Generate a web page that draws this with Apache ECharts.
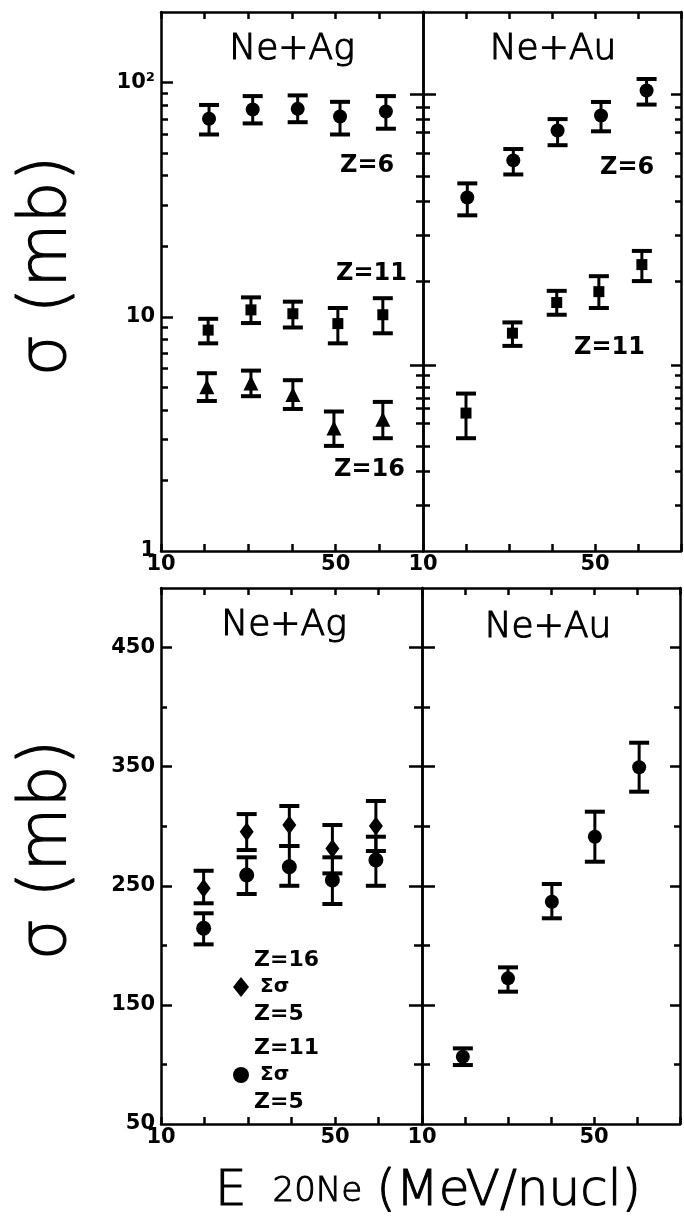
<!DOCTYPE html>
<html><head><meta charset="utf-8">
<script src="https://cdn.jsdelivr.net/npm/echarts@6/dist/echarts.min.js"></script>
<style>html,body{margin:0;padding:0;background:#fff}#c{width:684px;height:1218px}</style>
</head><body><div id="c"></div>
<script>
// ---------- x axis (beam energy, MeV/nucl) ----------
const xLabelVals = [10, 50];

// ---------- top panels: log scale (mb) ----------
const logLabelVals = [1, 10, 100];
const agMajorTicks = [10, 100];
const agMinorTicks = [2, 3, 4, 5, 6, 7, 8, 9, 20, 30, 40, 50, 60, 70, 80, 90];
const auLongTicks = [6.21, 88.9];
const auShortTicks = [1.57, 2.19, 2.80, 3.51, 4.07, 4.49, 5.0, 5.63, 14.2, 22.3, 31.1, 39.7, 49.8, 61.2, 69.5, 78.2];

// Ne+Ag, Z=6
const agZ6E  = [21, 31, 41.3, 51, 61.5];
const agZ6   = [70, 76.7, 77.2, 71.6, 75.2];
const agZ6Lo = [60, 66.9, 67.7, 60, 63.5];
const agZ6Hi = [80.2, 87.5, 88.1, 82.7, 87.5];
// Ne+Ag, Z=11
const agZ11E  = [20.8, 30.6, 40.2, 50.5, 60.8];
const agZ11   = [8.77, 10.7, 10.3, 9.35, 10.2];
const agZ11Lo = [7.7, 9.4, 9.0, 7.7, 8.5];
const agZ11Hi = [9.8, 12.1, 11.6, 10.9, 12.0];
// Ne+Ag, Z=16
const agZ16E  = [20.5, 30.6, 40.2, 49.6, 60.8];
const agZ16   = [5.03, 5.22, 4.66, 3.35, 3.65];
const agZ16Lo = [4.37, 4.58, 4.04, 2.81, 3.03];
const agZ16Hi = [5.74, 5.89, 5.36, 3.94, 4.33];
// Ne+Au, Z=6
const auZ6E  = [20.3, 31, 41.3, 51.4, 62];
const auZ6   = [32.3, 46.5, 62.4, 72.3, 92.4];
const auZ6Lo = [27.1, 40.5, 54.0, 61.9, 80.5];
const auZ6Hi = [37.1, 52.0, 69.8, 82.6, 103.5];
// Ne+Au, Z=11
const auZ11E  = [20.0, 30.8, 41.1, 50.9, 60.9];
const auZ11   = [3.88, 8.51, 11.5, 12.8, 16.7];
const auZ11Lo = [3.03, 7.51, 10.2, 10.9, 14.2];
const auZ11Hi = [4.70, 9.46, 12.9, 14.9, 19.1];

// ---------- bottom panels: linear scale (mb) ----------
const linLabelVals = [50, 150, 250, 350, 450];
const linMajorTicks = [150, 250, 350, 450];
const linMinorTicks = [100, 200, 300, 400];
// Ne+Ag, sum Z=5..16 (diamonds) and sum Z=5..11 (circles)
const agSumE    = [19.8, 29.7, 39.5, 49.4, 59.4];
const agSum16   = [247.9, 295.4, 301.0, 281.4, 300.2];
const agSum16Lo = [235.3, 280.0, 283.4, 260.4, 279.2];
const agSum16Hi = [262.6, 310.2, 317.0, 301.0, 321.2];
const agSum11   = [214.3, 259.0, 266.0, 254.8, 271.6];
const agSum11Lo = [200.8, 243.1, 250.0, 234.7, 250.0];
const agSum11Hi = [226.9, 273.9, 283.4, 273.9, 291.2];
// Ne+Au, sum
const auSumE  = [19.5, 30, 40.2, 50.2, 60.5];
const auSum   = [106.5, 172.3, 236.6, 291.2, 349.5];
const auSumLo = [99.5, 161.1, 222.7, 270.2, 329.0];
const auSumHi = [113.5, 181.5, 251.5, 312.2, 370.1];

// ---------- helpers ----------
const BLACK = '#000';
const tickFont = {color: BLACK, fontFamily: 'DejaVu Sans', fontWeight: 'bold', fontSize: 21};
const pts = (E, v) => E.map((e, i) => [e, v[i]]);
const bars = (E, v, lo, hi) => E.map((e, i) => [e, v[i], lo[i], hi[i]]);

function errRender(params, api) {
  const x = api.value(0), lo = api.value(2), hi = api.value(3);
  const a = api.coord([x, hi]), b = api.coord([x, lo]);
  const hw = 10;
  return {type: 'group', children: [
    {type: 'line', shape: {x1: a[0], y1: a[1], x2: b[0], y2: b[1]}, style: {stroke: BLACK, lineWidth: 3}},
    {type: 'line', shape: {x1: a[0] - hw, y1: a[1], x2: a[0] + hw, y2: a[1]}, style: {stroke: BLACK, lineWidth: 4}},
    {type: 'line', shape: {x1: b[0] - hw, y1: b[1], x2: b[0] + hw, y2: b[1]}, style: {stroke: BLACK, lineWidth: 4}}
  ]};
}
function errSeries(data, xi, yi) {
  return {type: 'custom', xAxisIndex: xi, yAxisIndex: yi, renderItem: errRender, data: data,
    encode: {x: 0, y: 1}, clip: false, silent: true, z: 3};
}
function ptSeries(name, data, xi, yi, symbol, size) {
  return {type: 'scatter', name: name, xAxisIndex: xi, yAxisIndex: yi, data: data, symbol: symbol,
    symbolSize: size, itemStyle: {color: BLACK, opacity: 1}, silent: true, z: 4};
}

const LW = 2.5;
function xAx(gi, pos, labels) {
  return {type: 'value', gridIndex: gi, position: pos, min: 10, max: 70, interval: 10,
    axisLine: {show: true, onZero: false, lineStyle: {color: BLACK, width: LW}},
    axisTick: {show: true, inside: true, length: 7, lineStyle: {color: BLACK, width: LW}},
    axisLabel: Object.assign({show: labels, margin: 3, showMinLabel: true, showMaxLabel: true,
      formatter: v => xLabelVals.indexOf(Math.round(v)) >= 0 ? String(Math.round(v)) : ''}, tickFont),
    splitLine: {show: false}};
}
function yAx(gi, type, range, pos, line, ticks, tlen, inside, labels) {
  const ax = {type: type, gridIndex: gi, position: pos, min: range[0], max: range[1],
    axisLine: {show: line, onZero: false, lineStyle: {color: BLACK, width: LW}},
    axisTick: ticks ? {show: true, inside: inside, length: tlen, customValues: ticks,
      lineStyle: {color: BLACK, width: LW}} : {show: false},
    axisLabel: {show: false},
    splitLine: {show: false}};
  if (labels) {
    ax.axisLabel = Object.assign({show: true, margin: 6, customValues: labels.vals,
      formatter: labels.fmt}, tickFont);
  }
  return ax;
}
const logR = [1, 200], linR = [50, 500];
const logFmt = v => { const r = Math.round(v); return r === 100 ? '10²' : String(r); };
const linFmt = v => String(Math.round(v));

const grids = [
  {left: 161, top: 12, width: 262, height: 539},
  {left: 423, top: 12, width: 258, height: 539},
  {left: 161, top: 588, width: 261, height: 536},
  {left: 422, top: 588, width: 258, height: 536}
].map(g => Object.assign({outerBoundsMode: 'none', containLabel: false}, g));

const xAxis = [
  xAx(0, 'bottom', true), xAx(0, 'top', false),
  xAx(1, 'bottom', true), xAx(1, 'top', false),
  xAx(2, 'bottom', true), xAx(2, 'top', false),
  xAx(3, 'bottom', true), xAx(3, 'top', false)
];
const yAxis = [
  // grid 0 (Ne+Ag, log)
  yAx(0, 'log', logR, 'left', true, agMajorTicks, 12, true, {vals: logLabelVals, fmt: logFmt}), // 0
  yAx(0, 'log', logR, 'left', false, agMinorTicks, 7, true),   // 1
  yAx(0, 'log', logR, 'right', true, null),                     // 2
  // grid 1 (Ne+Au, log)
  yAx(1, 'log', logR, 'left', true, auLongTicks, 13, true),     // 3
  yAx(1, 'log', logR, 'left', false, auLongTicks, 13, false),   // 4
  yAx(1, 'log', logR, 'left', false, auShortTicks, 7, true),    // 5
  yAx(1, 'log', logR, 'left', false, auShortTicks, 7, false),   // 6
  yAx(1, 'log', logR, 'right', true, auLongTicks, 10, true),    // 7
  yAx(1, 'log', logR, 'right', false, auShortTicks, 6, true),   // 8
  // grid 2 (Ne+Ag, linear)
  yAx(2, 'value', linR, 'left', true, linMajorTicks, 11, true, {vals: linLabelVals, fmt: linFmt}), // 9
  yAx(2, 'value', linR, 'left', false, linMinorTicks, 6, true), // 10
  yAx(2, 'value', linR, 'right', true, null),                   // 11
  // grid 3 (Ne+Au, linear)
  yAx(3, 'value', linR, 'left', true, linMajorTicks, 13, true),   // 12
  yAx(3, 'value', linR, 'left', false, linMajorTicks, 13, false), // 13
  yAx(3, 'value', linR, 'left', false, linMinorTicks, 8, true),   // 14
  yAx(3, 'value', linR, 'left', false, linMinorTicks, 8, false),  // 15
  yAx(3, 'value', linR, 'right', true, linMajorTicks, 10, true),  // 16
  yAx(3, 'value', linR, 'right', false, linMinorTicks, 6, true)   // 17
];

const series = [
  errSeries(bars(agZ6E, agZ6, agZ6Lo, agZ6Hi), 0, 0),
  errSeries(bars(agZ11E, agZ11, agZ11Lo, agZ11Hi), 0, 0),
  errSeries(bars(agZ16E, agZ16, agZ16Lo, agZ16Hi), 0, 0),
  ptSeries('agZ6', pts(agZ6E, agZ6), 0, 0, 'circle', 14),
  ptSeries('agZ11', pts(agZ11E, agZ11), 0, 0, 'rect', 11),
  ptSeries('agZ16', pts(agZ16E, agZ16), 0, 0, 'triangle', 15),
  errSeries(bars(auZ6E, auZ6, auZ6Lo, auZ6Hi), 2, 3),
  errSeries(bars(auZ11E, auZ11, auZ11Lo, auZ11Hi), 2, 3),
  ptSeries('auZ6', pts(auZ6E, auZ6), 2, 3, 'circle', 14),
  ptSeries('auZ11', pts(auZ11E, auZ11), 2, 3, 'rect', 11),
  errSeries(bars(agSumE, agSum16, agSum16Lo, agSum16Hi), 4, 9),
  errSeries(bars(agSumE, agSum11, agSum11Lo, agSum11Hi), 4, 9),
  ptSeries('sum16', pts(agSumE, agSum16), 4, 9, 'diamond', [14, 19]),
  ptSeries('sum11', pts(agSumE, agSum11), 4, 9, 'circle', 15),
  errSeries(bars(auSumE, auSum, auSumLo, auSumHi), 6, 12),
  ptSeries('auSum', pts(auSumE, auSum), 6, 12, 'circle', 14)
];

// light sans text, thickened slightly with a thin outline to match the plotter strokes
const thin = '"DejaVu Sans"';
function txt(text, x, y, font, align, extra, sw) {
  return Object.assign({type: 'text', x: x, y: y, silent: true, z: 10,
    style: {text: text, font: font, fill: BLACK, stroke: sw ? BLACK : null, lineWidth: sw || 0,
      align: align || 'left', verticalAlign: 'middle'}}, extra || {});
}
const zFont = 'bold 24px "DejaVu Sans"';
const panelFont = '200 36px ' + thin;
const graphic = [
  txt('Ne+Ag', 292, 50, panelFont, 'center', null, 1.2),
  txt('Ne+Au', 553, 50, panelFont, 'center', null, 1.2),
  txt('Ne+Ag', 284, 626, panelFont, 'center', null, 1.2),
  txt('Ne+Au', 548, 628, panelFont, 'center', null, 1.2),
  txt('Z=6', 340, 166, zFont),
  txt('Z=11', 336, 274, zFont),
  txt('Z=16', 334, 470, zFont),
  txt('Z=6', 600, 168, zFont),
  txt('Z=11', 574, 348, zFont),
  txt('σ (mb)', 48, 266, '200 66px ' + thin, 'center', {rotation: Math.PI / 2}, 1.1),
  txt('σ (mb)', 48, 850, '200 66px ' + thin, 'center', {rotation: Math.PI / 2}, 1.1),
  {type: 'text', x: 428, y: 1192, silent: true, z: 10,
    style: {text: '{b|E}{g|\u00a0}{s|20Ne}{h|\u00a0}{b|(MeV/nucl)}', align: 'center', verticalAlign: 'middle', fill: BLACK,
      rich: {b: {fontFamily: 'DejaVu Sans', fontWeight: 200, fontSize: 50, fill: BLACK, stroke: BLACK, lineWidth: 1.1},
             g: {fontSize: 20, width: 26},
             h: {fontSize: 20, width: 14},
             s: {fontFamily: 'DejaVu Sans', fontWeight: 200, fontSize: 34, fill: BLACK, stroke: BLACK, lineWidth: 1.0}}}}
];

const legendRich = {
  a: {fontFamily: 'DejaVu Sans', fontWeight: 'bold', fontSize: 22, lineHeight: 27, color: BLACK},
  b: {fontFamily: 'DejaVu Sans', fontWeight: 'bold', fontSize: 20, lineHeight: 27, color: BLACK, padding: [0, 0, 0, 6]}
};

const chart = echarts.init(document.getElementById('c'), null, {renderer: 'canvas'});
chart.setOption({
  animation: false,
  backgroundColor: '#fff',
  grid: grids,
  xAxis: xAxis,
  yAxis: yAxis,
  legend: {
    data: ['sum16', 'sum11'], orient: 'vertical', left: 228, top: 944, itemGap: 12,
    itemWidth: 16, itemHeight: 20, selectedMode: false,
    formatter: n => n === 'sum16' ? '{a|Z=16}\n{b|Σσ}\n{a|Z=5}' : '{a|Z=11}\n{b|Σσ}\n{a|Z=5}',
    textStyle: {rich: legendRich, color: BLACK}, itemStyle: {color: BLACK}
  },
  series: series,
  graphic: graphic
});
</script></body></html>
